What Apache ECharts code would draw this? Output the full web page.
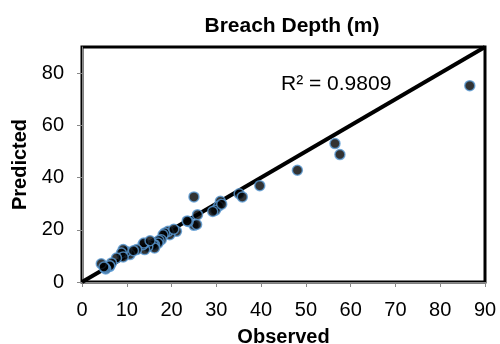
<!DOCTYPE html>
<html>
<head>
<meta charset="utf-8">
<script src="https://cdn.jsdelivr.net/npm/echarts@6/dist/echarts.min.js"></script>
<style>
  html, body { margin: 0; padding: 0; background: #fff; }
  #chart { width: 500px; height: 344px; }
</style>
</head>
<body>
<div id="chart"></div>
<script>
// observed vs predicted breach depth (m)
var observed = [
  86.6, 56.5, 57.6, 48.1, 39.7, 35.1, 35.8, 30.9, 30.5, 29.8, 29.2,
  25.0, 25.8, 25.0, 25.6, 23.7, 23.5, 21.1, 19.6, 19.2, 18.5, 18.1, 17.7,
  17.2, 17.0, 16.2, 15.9, 16.2, 14.7, 14.0, 13.6, 13.8, 12.2, 10.7, 9.9,
  9.2, 8.8, 9.2, 7.7, 6.6, 6.2, 6.2, 5.3, 5.1, 4.3, 4.9, 11.5, 15.2, 20.5, 31.2
];
var predicted = [
  75.2, 53.0, 48.8, 42.8, 36.9, 33.8, 32.6, 30.9, 29.0, 27.5, 27.0,
  32.6, 25.8, 21.7, 22.0, 23.2, 23.4, 19.4, 18.1, 19.4, 18.8, 18.1, 16.2,
  15.9, 14.9, 14.3, 14.3, 13.0, 13.6, 12.4, 14.3, 14.9, 12.4, 10.5, 11.7,
  12.4, 11.1, 9.6, 9.2, 7.3, 6.0, 6.2, 5.0, 5.4, 7.0, 5.7, 12.0, 15.8, 20.2, 29.8
];
var fitLine = [[0, 0], [90, 90]];
var r2Text = 'R² = 0.9809';

var points = observed.map(function (x, i) { return [x, predicted[i]]; });

var myChart = echarts.init(document.getElementById('chart'));
var fontFam = 'Liberation Sans, Arial, sans-serif';
var labelFont = { fontFamily: fontFam, fontSize: 20, color: '#000' };
var nameFont = { fontFamily: fontFam, fontSize: 20, fontWeight: 'bold', color: '#000' };

myChart.setOption({
  animation: false,
  backgroundColor: '#fff',
  title: {
    text: 'Breach Depth (m)',
    left: 287,
    textAlign: 'center',
    top: 11,
    textStyle: { fontFamily: fontFam, fontSize: 21, fontWeight: 'bold', color: '#000' }
  },
  grid: {
    left: 82, right: 15, top: 47, bottom: 62,
    outerBoundsMode: 'none', containLabel: false,
    show: true, borderColor: '#000', borderWidth: 3, backgroundColor: '#fff'
  },
  xAxis: {
    type: 'value', min: 0, max: 90, interval: 10,
    name: 'Observed', nameLocation: 'middle', nameGap: 45,
    nameTextStyle: nameFont,
    axisLine: { show: true, lineStyle: { color: '#888', width: 1 } },
    axisTick: { show: true, length: 5, lineStyle: { color: '#888' } },
    axisLabel: Object.assign({ margin: 18 }, labelFont),
    splitLine: { show: false }
  },
  yAxis: {
    type: 'value', min: 0, max: 90, interval: 20,
    name: 'Predicted', nameLocation: 'middle', nameGap: 52, nameRotate: 90,
    nameTextStyle: nameFont,
    axisLine: { show: true, lineStyle: { color: '#888', width: 1 } },
    axisTick: { show: true, length: 5, lineStyle: { color: '#888' } },
    axisLabel: Object.assign({ margin: 18, showMaxLabel: false }, labelFont),
    splitLine: { show: false }
  },
  graphic: [{
    type: 'text', left: 281, top: 74, z: 10,
    style: { text: r2Text, font: '21px "Liberation Sans", Arial, sans-serif', fill: '#000' }
  }],
  series: [
    {
      type: 'line', data: fitLine, symbol: 'none', z: 1,
      lineStyle: { color: '#000', width: 4 }
    },
    {
      type: 'scatter', data: points, symbol: 'circle', symbolSize: 10, z: 2,
      itemStyle: { color: '#000', borderColor: '#5B9BD5', borderWidth: 1.5 }
    }
  ]
});
</script>
</body>
</html>
